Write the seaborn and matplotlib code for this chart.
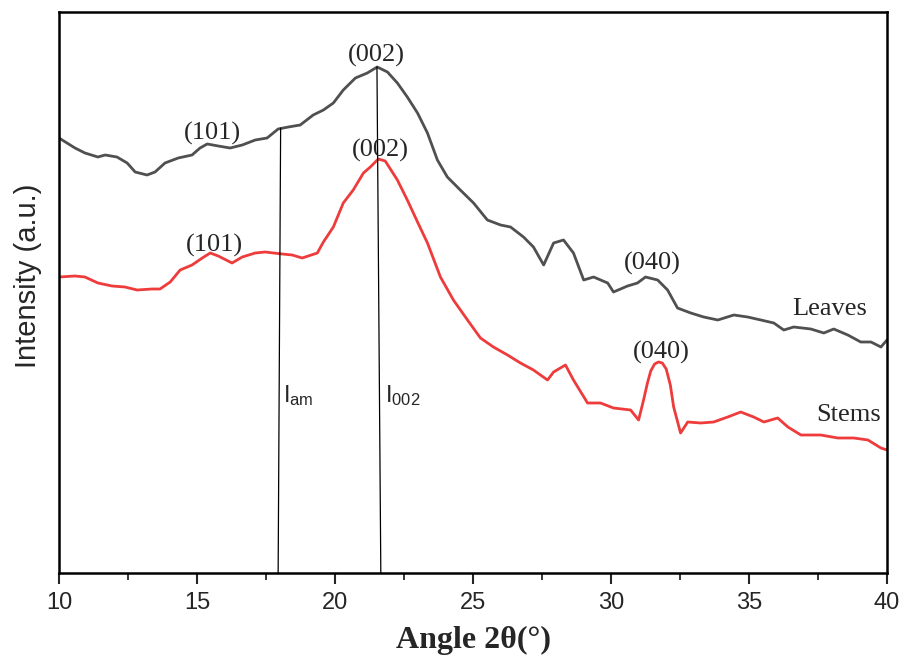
import matplotlib
matplotlib.use("Agg")
import matplotlib.pyplot as plt
import seaborn as sns
import pandas as pd

# ---- data ----
leaves_angle = [10.0, 10.58, 10.94, 11.41, 11.67, 12.10, 12.47, 12.76, 13.19, 13.48,
                13.84, 14.32, 14.82, 15.11, 15.37, 15.77, 16.20, 16.64, 17.11, 17.54,
                17.94, 18.31, 18.74, 19.21, 19.58, 19.94, 20.30, 20.74, 21.17, 21.53,
                21.90, 22.26, 22.62, 22.99, 23.35, 23.71, 24.07, 24.54, 25.02, 25.52,
                26.00, 26.36, 26.83, 27.19, 27.56, 27.92, 28.28, 28.64, 29.01, 29.37,
                29.88, 30.09, 30.60, 30.96, 31.25, 31.69, 32.05, 32.41, 32.89, 33.36,
                33.87, 34.45, 34.95, 35.43, 35.90, 36.26, 36.62, 37.24, 37.71, 38.07,
                38.58, 39.05, 39.42, 39.78, 40.0]
leaves_intensity = [435, 425, 420, 416, 418, 416, 410, 401, 398, 401,
                    410, 415, 418, 425, 429, 427, 425, 428, 433, 435,
                    444, 446, 448, 458, 463, 470, 483, 495, 500, 506,
                    501, 490, 476, 460, 440, 413, 396, 383, 370, 353,
                    348, 346, 336, 326, 308, 330, 333, 320, 293, 296,
                    290, 281, 287, 290, 296, 293, 283, 265, 260, 256,
                    253, 258, 256, 253, 250, 243, 246, 244, 240, 244,
                    238, 231, 231, 226, 233]

stems_angle = [10.0, 10.58, 10.94, 11.41, 11.92, 12.39, 12.83, 13.37, 13.66, 14.03,
               14.39, 14.82, 15.19, 15.48, 15.77, 16.27, 16.64, 17.11, 17.47, 18.09,
               18.45, 18.81, 19.36, 19.58, 19.94, 20.30, 20.66, 21.03, 21.28, 21.57,
               21.82, 22.26, 22.62, 22.99, 23.35, 23.82, 24.29, 24.80, 25.27, 25.74,
               26.25, 26.72, 27.19, 27.70, 27.92, 28.35, 28.64, 29.15, 29.62, 30.09,
               30.71, 31.00, 31.18, 31.32, 31.44, 31.58, 31.72, 31.86, 32.00, 32.15,
               32.27, 32.52, 32.78, 33.25,
               33.72, 34.23, 34.70, 35.17, 35.54, 36.04, 36.41, 36.88, 37.60, 38.22,
               38.80, 39.31, 39.78, 40.0]
stems_intensity = [296, 297, 296, 290, 287, 286, 283, 284, 284, 291,
                   303, 308, 315, 320, 317, 310, 316, 320, 321, 319,
                   318, 315, 320, 331, 346, 370, 383, 400, 406, 414,
                   412, 393, 373, 351, 330, 296, 273, 253, 235, 226,
                   218, 210, 203, 193, 201, 208, 193, 170, 170, 165,
                   163, 153, 173, 190, 202, 209, 211, 210, 204, 188,
                   166, 140, 151, 150,
                   151, 156, 161, 156, 151, 155, 146, 138, 138, 135,
                   135, 133, 125, 123]

# reference lines (I_am, I_002): top and bottom points
iam_angle = [18.03, 17.94]
iam_intensity = [445, 0]
i002_angle = [21.52, 21.66]
i002_intensity = [506, 0]

# peak labels
peak_labels = ["(101)", "(101)", "(002)", "(002)", "(040)", "(040)"]
peak_angle = [15.55, 15.62, 21.50, 21.64, 31.51, 31.84]
peak_intensity = [440, 328, 518, 423, 310, 221]

series_names = ["Leaves", "Stems"]
series_label_angle = [37.93, 38.62]
series_label_intensity = [264, 158]

xticks = [10, 15, 20, 25, 30, 35, 40]

# ---- plot ----
sns.set_style("ticks")
plt.rcParams["font.family"] = ["Liberation Sans", "DejaVu Sans"]
plt.rcParams["mathtext.fontset"] = "custom"
plt.rcParams["mathtext.rm"] = "Liberation Sans"
plt.rcParams["mathtext.it"] = "Liberation Sans:italic"

fig = plt.figure(figsize=(9.09, 6.63), dpi=100)
ax = fig.add_axes([59 / 909, 90 / 663, 828 / 909, 561 / 663])

df_l = pd.DataFrame({"angle": leaves_angle, "intensity": leaves_intensity})
df_s = pd.DataFrame({"angle": stems_angle, "intensity": stems_intensity})
sns.lineplot(data=df_l, x="angle", y="intensity", ax=ax, color="#505050", lw=2.0, sort=False)
sns.lineplot(data=df_s, x="angle", y="intensity", ax=ax, color="#ee3b3b", lw=2.0, sort=False)

ax.plot(iam_angle, iam_intensity, color="black", lw=0.9)
ax.plot(i002_angle, i002_intensity, color="black", lw=0.9)

serif = ["Liberation Serif", "DejaVu Serif"]
for lab, xa, ya in zip(peak_labels, peak_angle, peak_intensity):
    ax.text(xa, ya, lab, ha="center", va="center", fontsize=19, family=serif)
for lab, xa, ya in zip(series_names, series_label_angle, series_label_intensity):
    ax.text(xa, ya, lab, ha="center", va="center", fontsize=19, family=serif)

ax.text(18.12, 171, r"I$_{\mathrm{am}}$", ha="left", va="baseline", fontsize=17)
ax.text(21.82, 171, r"I$_{\mathrm{002}}$", ha="left", va="baseline", fontsize=17)

ax.set_xlim(10, 40)
ax.set_ylim(0, 561)
ax.set_xticks(xticks)
ax.set_xticks([12.5, 17.5, 22.5, 27.5, 32.5, 37.5], minor=True)
ax.set_yticks([])
ax.tick_params(axis="x", which="major", direction="out", length=8, width=1.5,
               labelsize=17, pad=6)
ax.tick_params(axis="x", which="minor", direction="out", length=5, width=1.3)
for s in ax.spines.values():
    s.set_linewidth(1.8)
    s.set_color("black")

ax.set_xlabel("Angle 2θ(°)", fontsize=23, fontweight="bold", family=serif, labelpad=8)
ax.set_ylabel("Intensity (a.u.)", fontsize=21)
ax.yaxis.set_label_coords(-0.02, 0.53)

fig.savefig("out.png", dpi=100)
